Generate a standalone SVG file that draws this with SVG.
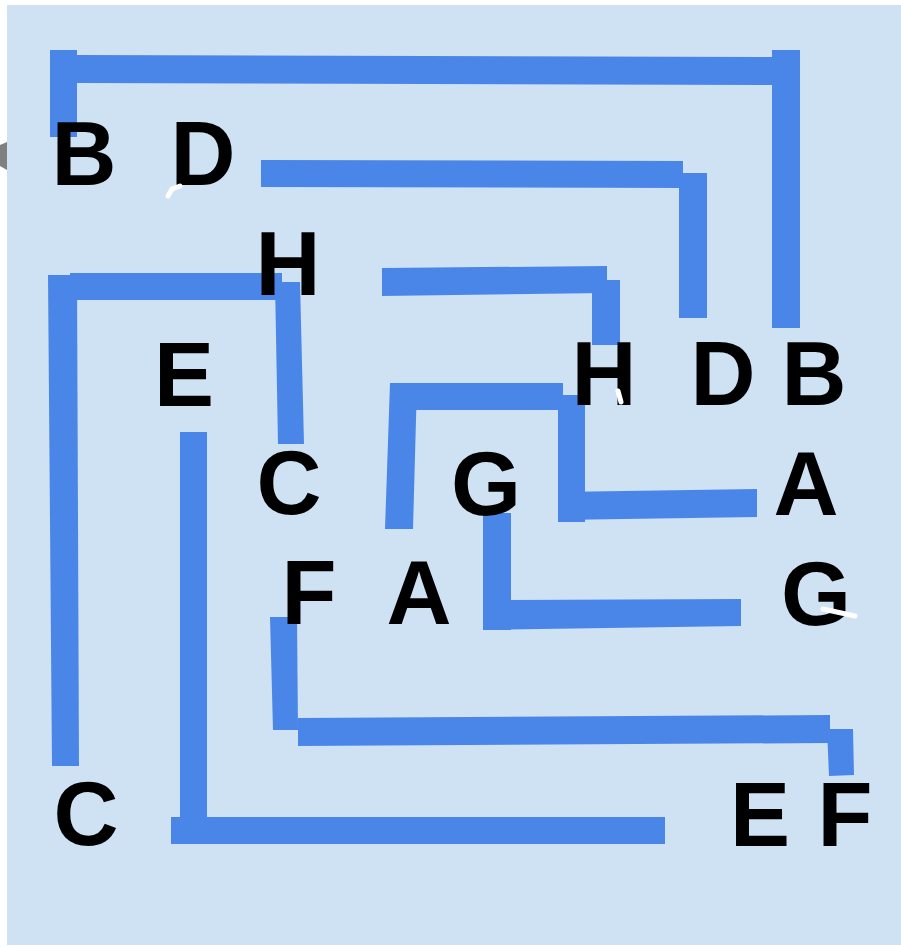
<svg xmlns="http://www.w3.org/2000/svg" width="901" height="947" viewBox="0 0 901 947">
<style>
.bg{fill:#cfe2f3}
.ln{fill:#4a86e8}
.lb{font-family:"Liberation Sans",Arial,sans-serif;font-weight:bold;font-size:90px;fill:#000;text-anchor:middle}
.wm{fill:none;stroke:#fff;stroke-width:5;stroke-linecap:round}
</style>
<rect x="0" y="0" width="901" height="947" fill="#fff"/>
<rect class="bg" x="7" y="5" width="894" height="940"/>
<path d="M0,145 L7,142 L7,170 L0,166 Z" fill="#808080"/>
<g id="connectors">
  <g id="edge-B">
    <rect class="ln" x="50" y="50" width="27" height="87"/>
    <polygon class="ln" points="77,55 773,57 773,85 77,83"/>
    <rect class="ln" x="772" y="50" width="28" height="278"/>
  </g>
  <g id="edge-D">
    <polygon class="ln" points="261,160 683,161 683,188 261,187"/>
    <rect class="ln" x="679" y="173" width="28" height="145"/>
  </g>
  <g id="edge-H">
    <polygon class="ln" points="382,268 607,266 607,293 382,296"/>
    <rect class="ln" x="592" y="280" width="28" height="65"/>
  </g>
  <g id="edge-C">
    <polygon class="ln" points="48,275 77,275 79,766 52,766"/>
    <rect class="ln" x="70" y="273" width="212" height="27"/>
    <polygon class="ln" points="275,282 300,282 304,444 278,444"/>
  </g>
  <g id="edge-E">
    <rect class="ln" x="180" y="432" width="27" height="390"/>
    <rect class="ln" x="171" y="817" width="494" height="27"/>
  </g>
  <g id="edge-A">
    <polygon class="ln" points="390,383 417,383 413,529 385,529"/>
    <rect class="ln" x="390" y="383" width="173" height="27"/>
    <rect class="ln" x="558" y="395" width="27" height="127"/>
    <polygon class="ln" points="558,492 757,489 757,517 558,520"/>
  </g>
  <g id="edge-G">
    <rect class="ln" x="483" y="513" width="28" height="117"/>
    <polygon class="ln" points="483,600 741,599 741,626 483,630"/>
  </g>
  <g id="edge-F">
    <polygon class="ln" points="270,617 297,617 298,730 273,730"/>
    <polygon class="ln" points="298,718 830,715 830,743 298,746"/>
    <polygon class="ln" points="827,729 853,729 854,775 829,776"/>
  </g>
</g>
<g id="node-B1"><text class="lb" x="84" y="185">B</text></g>
<g id="node-D1"><text class="lb" x="203" y="185">D</text></g>
<g id="node-H1"><text class="lb" x="288" y="295">H</text></g>
<g id="node-E1"><text class="lb" x="184" y="406">E</text></g>
<g id="node-C1"><text class="lb" x="289" y="514">C</text></g>
<g id="node-H2"><text class="lb" x="604" y="405">H</text></g>
<g id="node-D2"><text class="lb" x="723" y="405">D</text></g>
<g id="node-B2"><text class="lb" x="814" y="405">B</text></g>
<g id="node-G1"><text class="lb" x="486" y="515">G</text></g>
<g id="node-A1"><text class="lb" x="806" y="515">A</text></g>
<g id="node-F1"><text class="lb" x="309" y="624">F</text></g>
<g id="node-A2"><text class="lb" x="419" y="624">A</text></g>
<g id="node-G2"><text class="lb" x="816" y="625">G</text></g>
<g id="node-C2"><text class="lb" x="86" y="845">C</text></g>
<g id="node-E2"><text class="lb" x="760" y="846">E</text></g>
<g id="node-F2"><text class="lb" x="845" y="846">F</text></g>
<path class="wm" d="M168,196 L172,189 L180,186"/>
<path class="wm" d="M823,609 L855,616"/>
<path class="wm" d="M618,391 L621,402" stroke-width="4"/>
</svg>
